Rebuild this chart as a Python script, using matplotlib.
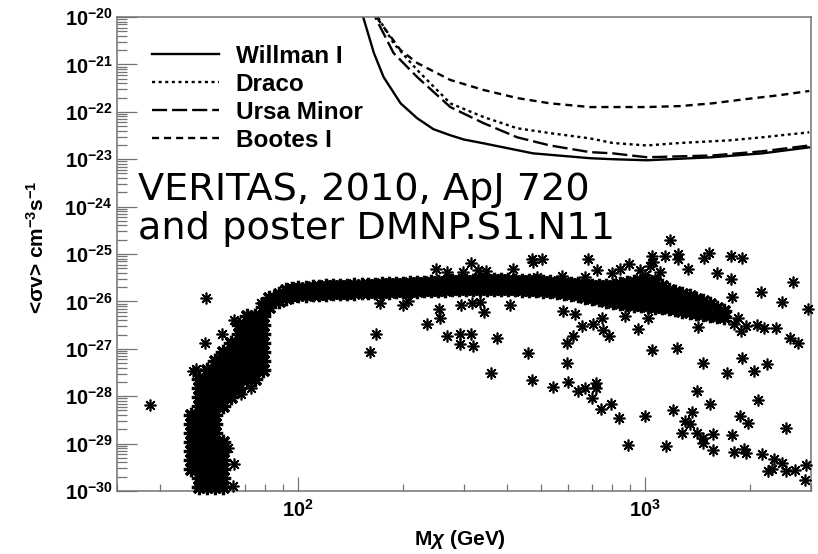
import matplotlib
matplotlib.use("Agg")
import matplotlib.pyplot as plt
from matplotlib.ticker import LogLocator, NullFormatter

# Exclusion curves: neutralino mass (GeV) and <sigma v> upper limits (cm^3 s^-1)
willman_mass = [151, 154, 165, 176, 197, 220, 245, 274, 300, 341, 474, 692, 805, 1008, 1561, 2174, 2967]
willman_sv = [1.8e-20, 9.5e-21, 1.74e-21, 5.4e-22, 1.51e-22, 7.3e-23, 4.3e-23, 3.2e-23, 2.6e-23,
              2.17e-23, 1.33e-23, 1.05e-23, 1.0e-23, 9.5e-24, 1.1e-23, 1.33e-23, 1.78e-23]

draco_mass = [166, 170, 188, 220, 274, 341, 427, 531, 692, 805, 1008, 1256, 1747, 2174, 2967]
draco_sv = [1.8e-20, 9.5e-21, 2.8e-21, 7.6e-22, 1.51e-22, 7.8e-23, 4.5e-23, 3.55e-23,
            2.75e-23, 2.2e-23, 1.95e-23, 2.2e-23, 2.5e-23, 2.9e-23, 3.7e-23]

ursa_mass = [165, 167, 188, 220, 274, 341, 427, 531, 692, 805, 1008, 1561, 2174, 2967]
ursa_sv = [1.8e-20, 9.5e-21, 1.74e-21, 5.4e-22, 1.26e-22, 5.8e-23, 2.9e-23, 1.95e-23,
           1.41e-23, 1.33e-23, 1.1e-23, 1.2e-23, 1.47e-23, 1.95e-23]

bootes_mass = [168, 170, 197, 220, 274, 341, 427, 531, 692, 1008, 1256, 1561, 1955, 2432, 2967]
bootes_sv = [1.8e-20, 8.7e-21, 2.0e-21, 1.07e-21, 4.7e-22, 2.9e-22, 1.95e-22, 1.51e-22,
             1.26e-22, 1.26e-22, 1.32e-22, 1.51e-22, 1.86e-22, 2.24e-22, 2.75e-22]

# Dense low-mass region of the model scan: (<sigma v>, masses along that row)
core_rows = [
    (1.22e-30, [51.7, 54.5, 57.5, 60.6]),
    (1.88e-30, [51.7, 54.5, 57.5, 60.6]),
    (2.92e-30, [49.0, 51.7, 54.5, 57.5, 60.6]),
    (4.5e-30, [49.0, 51.7, 54.5, 57.5, 60.6]),
    (7.0e-30, [49.0, 51.7, 54.5, 57.5, 60.6]),
    (1.09e-29, [49.0, 51.7, 54.5, 57.5, 60.6]),
    (1.68e-29, [49.0, 51.7, 54.5, 57.5]),
    (2.6e-29, [49.0, 51.7, 54.5, 57.5]),
    (4.0e-29, [49.0, 51.7, 54.5, 57.5]),
    (6.3e-29, [51.7, 54.5, 57.5, 60.6]),
    (9.7e-29, [51.7, 54.5, 57.5, 60.6, 63.9]),
    (1.5e-28, [51.7, 54.5, 57.5, 60.6, 63.9, 67.4]),
    (2.33e-28, [51.7, 54.5, 57.5, 60.6, 63.9, 67.4, 71.0, 74.9]),
    (3.6e-28, [54.5, 57.5, 60.6, 63.9, 67.4, 71.0, 74.9, 79.0]),
    (5.6e-28, [57.5, 60.6, 63.9, 67.4, 71.0, 74.9, 79.0]),
    (8.7e-28, [60.6, 63.9, 67.4, 71.0, 74.9, 79.0]),
    (1.35e-27, [63.9, 67.4, 71.0, 74.9, 79.0]),
    (2.08e-27, [67.4, 71.0, 74.9, 79.0]),
    (3.2e-27, [67.4, 71.0, 74.9, 79.0]),
    (5.0e-27, [71.0, 74.9, 79.0]),
    (7.8e-27, [79.0, 82.2]),
    (1.2e-26, [82.2, 85.0]),
]

# Plateau of the scan above ~88 GeV: upper and lower edge rows
band_mass = [88, 92, 96, 100, 105, 110, 115, 120, 126, 132, 138, 145, 152, 159, 166,
             174, 182, 191, 200, 210, 220, 230, 241, 252, 264, 277, 290, 304, 318, 333,
             349, 366, 383, 401, 420, 440, 461, 483, 506, 530, 555, 581, 609, 638, 668,
             700, 733, 768, 805, 843, 883, 925, 969, 1015, 1063, 1113, 1166, 1221, 1279,
             1340, 1403, 1470, 1540, 1613, 1690]
band_upper = [1.46e-26, 1.78e-26, 1.87e-26, 1.96e-26, 1.96e-26, 2.0e-26, 2.05e-26, 2.1e-26,
              2.1e-26, 2.16e-26, 2.16e-26, 2.2e-26, 2.2e-26, 2.26e-26, 2.26e-26, 2.3e-26,
              2.3e-26, 2.35e-26, 2.38e-26, 2.4e-26, 2.45e-26, 2.5e-26, 2.55e-26, 2.6e-26,
              2.62e-26, 2.66e-26, 2.7e-26, 2.75e-26, 2.75e-26, 2.78e-26, 2.8e-26, 2.8e-26,
              2.8e-26, 2.78e-26, 2.75e-26, 2.72e-26, 2.7e-26, 2.66e-26, 2.62e-26, 2.58e-26,
              2.5e-26, 2.45e-26, 2.38e-26, 2.3e-26, 2.22e-26, 2.16e-26, 2.1e-26, 2.1e-26,
              2.16e-26, 2.3e-26, 2.45e-26, 2.6e-26, 2.75e-26, 2.75e-26, 2.5e-26, 2.1e-26,
              1.78e-26, 1.6e-26, 1.45e-26, 1.3e-26, 1.15e-26, 1.04e-26, 9.0e-27, 7.4e-27,
              6.2e-27]
band_lower = [1.04e-26, 1.2e-26, 1.33e-26, 1.39e-26, 1.39e-26, 1.4e-26, 1.42e-26, 1.45e-26,
              1.48e-26, 1.5e-26, 1.53e-26, 1.53e-26, 1.55e-26, 1.55e-26, 1.58e-26, 1.6e-26,
              1.6e-26, 1.62e-26, 1.65e-26, 1.67e-26, 1.69e-26, 1.7e-26, 1.72e-26, 1.75e-26,
              1.78e-26, 1.8e-26, 1.82e-26, 1.85e-26, 1.87e-26, 1.87e-26, 1.87e-26, 1.87e-26,
              1.85e-26, 1.82e-26, 1.8e-26, 1.78e-26, 1.75e-26, 1.72e-26, 1.68e-26, 1.62e-26,
              1.58e-26, 1.5e-26, 1.42e-26, 1.35e-26, 1.26e-26, 1.18e-26, 1.1e-26, 1.04e-26,
              9.8e-27, 9.4e-27, 9.0e-27, 8.6e-27, 8.3e-27, 8.0e-27, 7.8e-27, 7.5e-27,
              7.2e-27, 6.8e-27, 6.4e-27, 6.1e-27, 5.8e-27, 5.5e-27, 5.2e-27, 5.0e-27,
              4.8e-27]

# Inner rows where the plateau is widest
band_mid_mass = [609, 638, 668, 700, 733, 768, 805, 843, 883, 925, 969, 1015, 1063, 1113,
                 1166, 1221, 1279, 1340, 1403, 1470]
band_mid = [1.85e-26, 1.78e-26, 1.7e-26, 1.62e-26, 1.55e-26, 1.5e-26, 1.45e-26, 1.42e-26,
            1.4e-26, 1.38e-26, 1.35e-26, 1.3e-26, 1.25e-26, 1.18e-26, 1.1e-26, 1.04e-26,
            9.6e-27, 8.9e-27, 8.2e-27, 7.6e-27]
band_mid2_mass = [768, 805, 843, 883, 925, 969, 1015, 1063, 1113, 1166]
band_mid2 = [1.8e-26, 1.8e-26, 1.85e-26, 1.9e-26, 1.95e-26, 2.0e-26, 2.0e-26, 1.85e-26,
             1.6e-26, 1.4e-26]

# Isolated models scattered around the dense regions
scatter_points = [
    (37.4, 6.6e-29), (54.2, 1.2e-26), (53.8, 1.35e-27), (60.2, 2.08e-27), (65.2, 4.1e-27),
    (50.7, 3.8e-28), (49.7, 3.4e-28), (58.6, 6.5e-28), (68.3, 1.12e-28), (72.9, 1.5e-28),
    (77.9, 9.4e-27), (65.2, 3.7e-30), (64.7, 1.28e-30), (62.7, 8.1e-30),
    (166.8, 2.08e-27), (160.3, 8.7e-28), (172.4, 9.4e-27), (200.7, 8.2e-27),
    (207.5, 1.04e-26), (235.3, 3.4e-27), (254.7, 7.0e-27), (256.4, 4.5e-27),
    (268.5, 1.89e-27), (292.7, 2.08e-27), (292.7, 1.28e-27), (314.8, 2.08e-27),
    (318.9, 1.16e-27), (294.6, 8.2e-27), (316.9, 9.4e-27), (334.1, 9.9e-27),
    (343.0, 6.1e-27), (373.8, 1.72e-27), (359.3, 3.1e-28), (459.0, 8.3e-28),
    (471.3, 2.2e-28), (541.7, 1.58e-28), (407.4, 8.6e-27),
    (249.7, 4.9e-26), (314.8, 6.6e-26), (347.6, 4.3e-26), (298.5, 4.1e-26),
    (415.6, 4.9e-26), (474.4, 6.9e-26), (471.0, 8.0e-26), (503.5, 7.7e-26),
    (487.1, 3.2e-26), (268.5, 4.1e-26), (330.0, 4.5e-26),
    (682.7, 7.7e-26), (1043, 9.3e-26), (1136, 9.3e-26), (1238, 9.8e-26), (1238, 8.0e-26),
    (1480, 8.4e-26), (1520, 1.03e-25), (1770, 8.9e-26), (1904, 8.4e-26), (1323, 4.9e-26),
    (1613, 3.9e-26), (1770, 3.03e-26), (1174, 1.93e-25), (724.6, 4.5e-26),
    (574.9, 3.5e-26), (669.3, 3.2e-26), (800.2, 3.9e-26), (843.6, 4.9e-26),
    (895.4, 6.3e-26), (2159, 1.61e-26), (2667, 2.6e-26), (2480, 9.9e-27),
    (1782, 1.26e-26), (2946, 7.0e-27),
    (963, 4.5e-26), (1029, 5.7e-26), (1099, 4.1e-26), (1063, 3.0e-26), (1000, 3.6e-26),
    (1050, 6.8e-26),
    (594.3, 1.35e-27), (618.3, 1.89e-27), (656.2, 3.1e-27), (705.7, 3.4e-27),
    (748.9, 4.5e-27), (754.0, 2.54e-27), (784.4, 1.89e-27), (578.8, 6.4e-27),
    (626.4, 5.5e-27), (872.0, 5.0e-27), (950.4, 2.66e-27), (1015, 4.5e-27),
    (1413, 2.9e-27), (1043, 9.6e-28), (1230, 1.05e-27), (1461, 5.1e-28), (1724, 3.1e-28),
    (1904, 6.5e-28), (2061, 3.4e-28), (2246, 4.8e-28), (1806, 3.4e-27), (1955, 3.1e-27),
    (2102, 3.2e-27), (2384, 2.8e-27), (2615, 1.72e-27), (2757, 1.35e-27),
    (1854, 4.5e-27), (1892, 2.4e-27), (2203, 2.8e-27),
    (594.3, 5.1e-28), (598.2, 2.0e-28), (639.1, 1.3e-28), (669.3, 1.51e-28),
    (719.8, 1.92e-28), (719.8, 1.51e-28), (701.0, 9.2e-29), (744.0, 5.4e-29),
    (794.9, 6.9e-29), (838.1, 3.5e-29), (995.4, 3.9e-29), (889.5, 9.4e-30),
    (1144, 8.9e-30), (1198, 5.2e-29), (1358, 4.7e-29), (1297, 3.0e-29), (1271, 1.68e-29),
    (1341, 2.6e-29), (1404, 1.68e-29), (1461, 1.32e-29), (1461, 1.03e-29),
    (1571, 1.6e-29), (1561, 7.4e-30), (1404, 1.3e-28), (1540, 6.9e-29), (1782, 1.53e-29),
    (1879, 3.9e-29), (1981, 2.74e-29), (2116, 8.4e-29), (1806, 6.7e-30), (1929, 7.7e-30),
    (1955, 6.4e-30), (2173, 6.1e-30), (2547, 2.15e-29), (2352, 4.75e-30),
    (2322, 2.9e-30), (2480, 3.9e-30), (2547, 2.65e-30), (2703, 2.8e-30),
    (2907, 3.55e-30), (2888, 1.71e-30), (2261, 2.65e-30),
]

y_tick_values = [1e-30, 1e-29, 1e-28, 1e-27, 1e-26, 1e-25, 1e-24, 1e-23, 1e-22, 1e-21, 1e-20]

plt.rcParams['mathtext.fontset'] = 'custom'
plt.rcParams['mathtext.rm'] = 'Liberation Sans:bold'
plt.rcParams['mathtext.bf'] = 'Liberation Sans:bold'
plt.rcParams['mathtext.it'] = 'Liberation Sans:italic'
plt.rcParams['font.family'] = ['Liberation Sans', 'DejaVu Sans']
plt.rcParams['font.weight'] = 'bold'

ASTERISK = (8, 2, 0)
FRAME = '0.45'


def draw_models(ax, masses, values, dense=False):
    """Plot one set of scan points as asterisks (heavier strokes in the dense regions)."""
    size, width = (11, 2.3) if dense else (8.5, 1.2)
    ax.plot(masses, values, linestyle='none', marker=ASTERISK, markersize=size,
            markeredgewidth=width, color='black', clip_on=False, zorder=3)


def main():
    fig = plt.figure(figsize=(8.18, 5.54), dpi=100)
    ax = fig.add_axes([0.1430, 0.1137, 0.8484, 0.8556])
    ax.set_xscale('log')
    ax.set_yscale('log')

    # scan points
    for sv, masses in core_rows:
        draw_models(ax, masses, [sv] * len(masses), dense=True)
    draw_models(ax, band_mass, band_upper, dense=True)
    draw_models(ax, band_mass, band_lower, dense=True)
    draw_models(ax, band_mid_mass, band_mid, dense=True)
    draw_models(ax, band_mid2_mass, band_mid2, dense=True)
    draw_models(ax, [p[0] for p in scatter_points], [p[1] for p in scatter_points])

    # dwarf galaxy limits
    lw = 1.7
    ax.plot(willman_mass, willman_sv, color='black', lw=lw, label='Willman I')
    ax.plot(draco_mass, draco_sv, color='black', lw=lw, dashes=(1.3, 1.5), label='Draco')
    ax.plot(ursa_mass, ursa_sv, color='black', lw=lw, dashes=(6.4, 2.1), label='Ursa Minor')
    ax.plot(bootes_mass, bootes_sv, color='black', lw=lw, dashes=(3.0, 2.1), label='Bootes I')

    ax.set_xlim(30, 3000)
    ax.set_ylim(1e-30, 1e-20)

    ax.set_yticks(y_tick_values)
    ax.yaxis.set_minor_locator(LogLocator(base=10, subs=[2, 3, 4, 5, 6, 7, 8, 9], numticks=100))
    ax.xaxis.set_minor_locator(LogLocator(base=10, subs=[2, 3, 4, 5, 6, 7, 8, 9], numticks=100))
    ax.xaxis.set_minor_formatter(NullFormatter())
    ax.yaxis.set_minor_formatter(NullFormatter())

    ax.tick_params(which='both', direction='in', top=False, right=False,
                   color=FRAME, width=0.9, labelsize=14.5, labelcolor='black')
    ax.tick_params(axis='y', which='major', length=14.5, pad=3)
    ax.tick_params(axis='y', which='minor', length=7.2)
    ax.tick_params(axis='x', which='major', length=10, pad=6)
    ax.tick_params(axis='x', which='minor', length=5)
    for spine in ax.spines.values():
        spine.set_color(FRAME)
        spine.set_linewidth(1.1)

    ax.set_xlabel('M$\\chi$ (GeV)', fontsize=15, fontweight='bold')
    ax.set_ylabel('<σv> cm$^{-3}$s$^{-1}$', fontsize=15, fontweight='bold')
    ax.xaxis.set_label_coords(0.494, -0.078)
    ax.yaxis.set_label_coords(-0.100, 0.515)

    leg = ax.legend(loc='upper left', bbox_to_anchor=(0.050, 0.941), frameon=False,
                    prop={'family': 'Liberation Sans', 'weight': 'bold', 'size': 17.5},
                    handlelength=2.76, handletextpad=0.69, labelspacing=0.2,
                    borderpad=0, borderaxespad=0)
    for line in leg.get_lines():
        line.set_linewidth(lw)

    ax.text(0.030, 0.532, 'VERITAS, 2010, ApJ 720\nand poster DMNP.S1.N11',
            transform=ax.transAxes, family='DejaVu Sans', fontweight='normal',
            fontsize=27.5, ha='left', va='baseline', linespacing=1.1, zorder=4)

    fig.savefig('out.png', dpi=100)


if __name__ == "__main__":
    main()
